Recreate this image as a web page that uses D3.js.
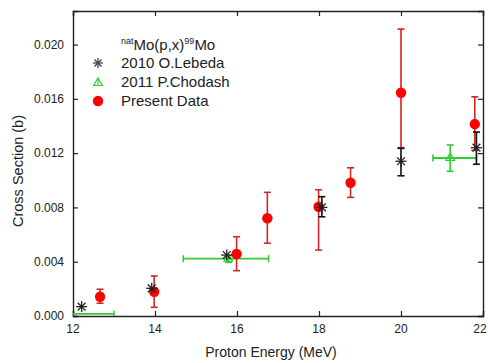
<!DOCTYPE html>
<html>
<head>
<meta charset="utf-8">
<script src="https://cdn.jsdelivr.net/npm/d3@7"></script>
<style>
  body { margin: 0; background: #fff; }
  text { font-family: Arial, "Liberation Sans", sans-serif; fill: #222; }
</style>
</head>
<body>
<script>
// Data

// Present Data (red circles), vertical error range
var presentE = [12.66, 13.98, 15.99, 16.74, 17.99, 18.77, 20.0, 21.8];
var presentXS = [0.00142, 0.00179, 0.00457, 0.0072, 0.00805, 0.00982, 0.01645, 0.01414];
var presentLo = [0.00094, 0.00064, 0.00334, 0.00536, 0.00486, 0.00874, 0.0124, 0.0122];
var presentHi = [0.00197, 0.00295, 0.00584, 0.00911, 0.0093, 0.01092, 0.02114, 0.01615];

// 2010 O.Lebeda (black asterisks)
var lebedaE = [12.21, 13.92, 15.75, 18.07, 20.0, 21.84];
var lebedaXS = [0.00069, 0.00204, 0.00449, 0.0080, 0.0114, 0.0124];
var lebedaLo = [0.00069, 0.00204, 0.00449, 0.00731, 0.01033, 0.01118];
var lebedaHi = [0.00069, 0.00204, 0.00449, 0.00879, 0.01235, 0.01355];

// 2011 P.Chodash (green open triangles), energy range + cross section range
var chodashE = [11.9, 15.79, 21.2];
var chodashXS = [0.00015, 0.00422, 0.01164];
var chodashELo = [10.8, 14.69, 20.78];
var chodashEHi = [13.0, 16.77, 21.84];
var chodashLo = [0.00015, 0.00395, 0.01066];
var chodashHi = [0.00015, 0.00445, 0.0126];

var xTicks = [12, 14, 16, 18, 20, 22];
var yTicks = [0, 0.004, 0.008, 0.012, 0.016, 0.020];

var svgWidth = 488;
var svgHeight = 363;
var margin = { top: 11, right: 5, bottom: 47, left: 73 };
var width = svgWidth - margin.left - margin.right;
var height = svgHeight - margin.top - margin.bottom;

var svg = d3.select("body")
  .append("svg")
  .attr("width", svgWidth)
  .attr("height", svgHeight);

var chartGroup = svg.append("g")
  .attr("transform", `translate(${margin.left}, ${margin.top})`);

var xScale = d3.scaleLinear().domain([12, 22]).range([0, width]);
var yScale = d3.scaleLinear().domain([0, 0.02247]).range([height, 0]);

var redBar = "#cc2a2a";
var red = "#ff0000";
var green = "#33cc33";
var black = "#111";

var xMinor = d3.range(13, 22, 2);
var yMinor = d3.range(0.002, 0.0225, 0.004);

var fmtX = d3.format("d");
var fmtY = d3.format(".3f");

// axes: major + minor ticks pointing inward, on all four sides
var xAxisG = chartGroup.append("g").attr("transform", `translate(0,${height})`);
xAxisG.call(d3.axisTop(xScale).tickValues(xMinor).tickSize(3).tickFormat(""));
xAxisG.call(d3.axisTop(xScale).tickValues(xTicks).tickSize(5).tickFormat(""));
xAxisG.selectAll(".xlab")
  .data(xTicks)
  .enter()
  .append("text")
  .attr("class", "xlab")
  .attr("x", function (d) { return xScale(d); })
  .attr("dx", function (d, i) { return i == xTicks.length - 1 ? -3 : 0; })
  .attr("y", 17)
  .attr("text-anchor", "middle")
  .attr("font-size", "12px")
  .text(fmtX);

var topG = chartGroup.append("g");
topG.call(d3.axisBottom(xScale).tickValues(xMinor).tickSize(3).tickFormat(""));
topG.call(d3.axisBottom(xScale).tickValues(xTicks).tickSize(5).tickFormat(""));

var yAxisG = chartGroup.append("g");
yAxisG.call(d3.axisRight(yScale).tickValues(yMinor).tickSize(3).tickFormat(""));
yAxisG.call(d3.axisRight(yScale).tickValues(yTicks).tickSize(5).tickFormat(""));
yAxisG.selectAll(".ylab")
  .data(yTicks)
  .enter()
  .append("text")
  .attr("class", "ylab")
  .attr("x", -9)
  .attr("y", function (d) { return yScale(d); })
  .attr("dy", "0.35em")
  .attr("text-anchor", "end")
  .attr("font-size", "12px")
  .text(fmtY);

var rightG = chartGroup.append("g").attr("transform", `translate(${width},0)`);
rightG.call(d3.axisLeft(yScale).tickValues(yMinor).tickSize(3).tickFormat(""));
rightG.call(d3.axisLeft(yScale).tickValues(yTicks).tickSize(5).tickFormat(""));

chartGroup.selectAll(".domain").attr("stroke", "#222").attr("stroke-width", 1.4);
chartGroup.selectAll(".tick line").attr("stroke", "#222").attr("stroke-width", 1.2);

// axis titles
svg.append("text")
  .attr("x", margin.left + width / 2 - 7)
  .attr("y", 357)
  .attr("text-anchor", "middle")
  .attr("font-size", "14px")
  .text("Proton Energy (MeV)");

svg.append("text")
  .attr("transform", "translate(23,171)rotate(-90)")
  .attr("text-anchor", "middle")
  .attr("font-size", "14.5px")
  .text("Cross Section (b)");

// clip for data marks
svg.append("defs").append("clipPath")
  .attr("id", "plotClip")
  .append("rect")
  .attr("x", 0).attr("y", -10)
  .attr("width", width + 10).attr("height", height + 10);

var dataG = chartGroup.append("g").attr("clip-path", "url(#plotClip)");

function vBar(g, x, lo, hi, color, cap) {
  if (hi - lo <= 0) return;
  g.append("line")
    .attr("x1", xScale(x)).attr("x2", xScale(x))
    .attr("y1", yScale(lo)).attr("y2", yScale(hi))
    .attr("stroke", color).attr("stroke-width", 1.6);
  [lo, hi].forEach(function (v) {
    g.append("line")
      .attr("x1", xScale(x) - cap).attr("x2", xScale(x) + cap)
      .attr("y1", yScale(v)).attr("y2", yScale(v))
      .attr("stroke", color).attr("stroke-width", 1.6);
  });
}

function asterisk(g, cx, cy, r, color) {
  [0, 45, 90, 135].forEach(function (a) {
    var rad = a * Math.PI / 180;
    g.append("line")
      .attr("x1", cx - r * Math.cos(rad)).attr("y1", cy - r * Math.sin(rad))
      .attr("x2", cx + r * Math.cos(rad)).attr("y2", cy + r * Math.sin(rad))
      .attr("stroke", color).attr("stroke-width", 1.3);
  });
}

function triangle(g, cx, cy, s, color) {
  g.append("path")
    .attr("d", `M${cx},${cy - s}L${cx + s * 0.87},${cy + s * 0.5}L${cx - s * 0.87},${cy + s * 0.5}Z`)
    .attr("fill", "none")
    .attr("stroke", color)
    .attr("stroke-width", 1.2);
  g.append("line")
    .attr("x1", cx).attr("x2", cx).attr("y1", cy - s).attr("y2", cy + s * 0.5)
    .attr("stroke", color).attr("stroke-width", 1.1);
}

// Chodash: horizontal + vertical error bars, open triangle
chodashE.forEach(function (e, i) {
  var y = yScale(chodashXS[i]);
  dataG.append("line")
    .attr("x1", xScale(chodashELo[i])).attr("x2", xScale(chodashEHi[i]))
    .attr("y1", y).attr("y2", y)
    .attr("stroke", green).attr("stroke-width", 1.8);
  [chodashELo[i], chodashEHi[i]].forEach(function (v) {
    dataG.append("line")
      .attr("x1", xScale(v)).attr("x2", xScale(v))
      .attr("y1", y - 3.5).attr("y2", y + 3.5)
      .attr("stroke", green).attr("stroke-width", 1.6);
  });
  vBar(dataG, e, chodashLo[i], chodashHi[i], green, 3.5);
  triangle(dataG, xScale(e), y, 5, green);
});

// Present data: error bars + filled red circles
presentE.forEach(function (e, i) {
  vBar(dataG, e, presentLo[i], presentHi[i], i == 6 ? "#e01a1a" : redBar, 3.5);
});
dataG.selectAll(".present")
  .data(presentE)
  .enter()
  .append("circle")
  .attr("class", "present")
  .attr("cx", function (d) { return xScale(d); })
  .attr("cy", function (d, i) { return yScale(presentXS[i]); })
  .attr("r", 5.2)
  .attr("fill", red);

// Lebeda: black error bars + asterisks
lebedaE.forEach(function (e, i) {
  vBar(dataG, e, lebedaLo[i], lebedaHi[i], black, 3.5);
  asterisk(dataG, xScale(e), yScale(lebedaXS[i]), 5.5, "#222");
});

// Legend
var legend = svg.append("g");

var title = legend.append("text")
  .attr("x", 121)
  .attr("y", 50)
  .attr("font-size", "15px");
title.append("tspan").attr("font-size", "9px").attr("dy", "-6").text("nat");
title.append("tspan").attr("dy", "6").text("Mo(p,x)");
title.append("tspan").attr("font-size", "9px").attr("dy", "-6").text("99");
title.append("tspan").attr("dy", "6").text("Mo");

var legendLabels = ["2010 O.Lebeda", "2011 P.Chodash", "Present Data"];
var legendY = [63, 82, 101];

legend.selectAll(".legtext")
  .data(legendLabels)
  .enter()
  .append("text")
  .attr("class", "legtext")
  .attr("x", 121)
  .attr("y", function (d, i) { return legendY[i]; })
  .attr("dy", "0.36em")
  .attr("font-size", "15px")
  .text(function (d) { return d; });

asterisk(legend, 98, legendY[0], 5, "#444");
triangle(legend, 98, legendY[1] + 1, 5, green);
legend.append("circle")
  .attr("cx", 98).attr("cy", legendY[2])
  .attr("r", 5.2)
  .attr("fill", red);
</script>
</body>
</html>
